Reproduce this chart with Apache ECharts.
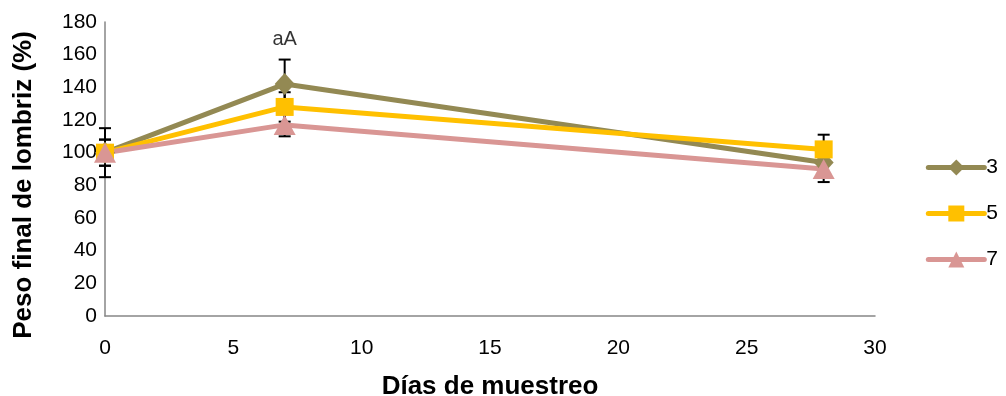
<!DOCTYPE html>
<html>
<head>
<meta charset="utf-8">
<script src="https://cdn.jsdelivr.net/npm/echarts@6/dist/echarts.min.js"></script>
<style>
  html, body { margin: 0; padding: 0; background: #fff; }
  #chart { width: 1006px; height: 396px; }
</style>
</head>
<body>
<div id="chart"></div>
<script>
// Sampling days and mean final worm weight (%) per treatment
const days = [0, 7, 28];
const serie3 = [100, 142, 94];
const serie5 = [100, 128, 102];
const serie7 = [100, 117, 90];
// Standard deviations for the error bars
const err3 = [15, 15, 9];
const err5 = [8, 9, 9];
const err7 = [8, 7, 8];
const seriesNames = ['3', '5', '7'];
const colors = ['#938953', '#FFC000', '#D99694'];
const symbols = ['diamond', 'rect', 'triangle'];
const yTicks = { min: 0, max: 180, interval: 20 };
const xTicks = { min: 0, max: 30, interval: 5 };
const annotation = { day: 7, value: 169, text: 'aA' };

const means = [serie3, serie5, serie7];
const errs = [err3, err5, err7];
const font = 'Liberation Sans, Arial, sans-serif';
const symbolSizes = [[20, 22], 18, [22, 20]];

const chart = echarts.init(document.getElementById('chart'));

function errorSeries(idx) {
  const data = days.map((d, i) => [d, means[idx][i] - errs[idx][i], means[idx][i] + errs[idx][i]]);
  return {
    type: 'custom',
    name: seriesNames[idx] + '_err',
    z: 1,
    silent: true,
    data: data,
    encode: { x: 0, y: [1, 2] },
    renderItem: function (params, api) {
      const x = api.value(0);
      const lo = api.coord([x, api.value(1)]);
      const hi = api.coord([x, api.value(2)]);
      const w = 6;
      const style = { stroke: '#000', lineWidth: 2 };
      return {
        type: 'group',
        children: [
          { type: 'line', shape: { x1: lo[0], y1: lo[1], x2: hi[0], y2: hi[1] }, style: style },
          { type: 'line', shape: { x1: lo[0] - w, y1: lo[1], x2: lo[0] + w, y2: lo[1] }, style: style },
          { type: 'line', shape: { x1: hi[0] - w, y1: hi[1], x2: hi[0] + w, y2: hi[1] }, style: style }
        ]
      };
    }
  };
}

function lineSeries(idx) {
  return {
    type: 'line',
    name: seriesNames[idx],
    z: 3,
    data: days.map((d, i) => [d, means[idx][i]]),
    symbol: symbols[idx],
    symbolSize: symbolSizes[idx],
    showAllSymbol: true,
    lineStyle: { color: colors[idx], width: 5, cap: 'round', join: 'round' },
    itemStyle: { color: colors[idx] },
    emphasis: { disabled: true }
  };
}

const series = [errorSeries(0), errorSeries(1), errorSeries(2),
                lineSeries(0), lineSeries(1), lineSeries(2)];

series.push({
  type: 'scatter',
  name: 'label',
  silent: true,
  symbolSize: 0,
  z: 5,
  data: [[annotation.day, annotation.value]],
  label: {
    show: true,
    position: 'inside',
    formatter: annotation.text,
    color: '#000',
    fontSize: 20,
    fontFamily: font
  }
});

chart.setOption({
  animation: false,
  backgroundColor: '#fff',
  grid: { left: 105, right: 131, top: 22, bottom: 80, outerBoundsMode: 'none', containLabel: false },
  legend: {
    orient: 'vertical',
    right: 3,
    top: 152,
    itemWidth: 56,
    itemHeight: 20,
    itemGap: 25,
    data: seriesNames,
    lineStyle: { width: 5, cap: 'round' },
    textStyle: { fontSize: 21, fontFamily: font, color: '#000', padding: [0, 0, 0, -3] }
  },
  xAxis: {
    type: 'value',
    min: xTicks.min, max: xTicks.max, interval: xTicks.interval,
    name: 'Días de muestreo',
    nameLocation: 'middle',
    nameGap: 58,
    nameTextStyle: { fontSize: 26, fontWeight: 'bold', fontFamily: font, color: '#000' },
    axisLine: { lineStyle: { color: '#868686', width: 1.5 } },
    axisTick: { show: false },
    splitLine: { show: false },
    axisLabel: { fontSize: 21, fontFamily: font, color: '#000', margin: 22 }
  },
  yAxis: {
    type: 'value',
    min: yTicks.min, max: yTicks.max, interval: yTicks.interval,
    name: 'Peso final de lombriz (%)',
    nameLocation: 'middle',
    nameGap: 68,
    nameTextStyle: { fontSize: 26, fontWeight: 'bold', fontFamily: font, color: '#000', padding: [0, 32, 0, 0] },
    axisLine: { show: true, lineStyle: { color: '#868686', width: 1.5 } },
    axisTick: { show: false },
    splitLine: { show: false },
    axisLabel: { fontSize: 21, fontFamily: font, color: '#000', margin: 8 }
  },
  series: series
});
</script>
</body>
</html>
